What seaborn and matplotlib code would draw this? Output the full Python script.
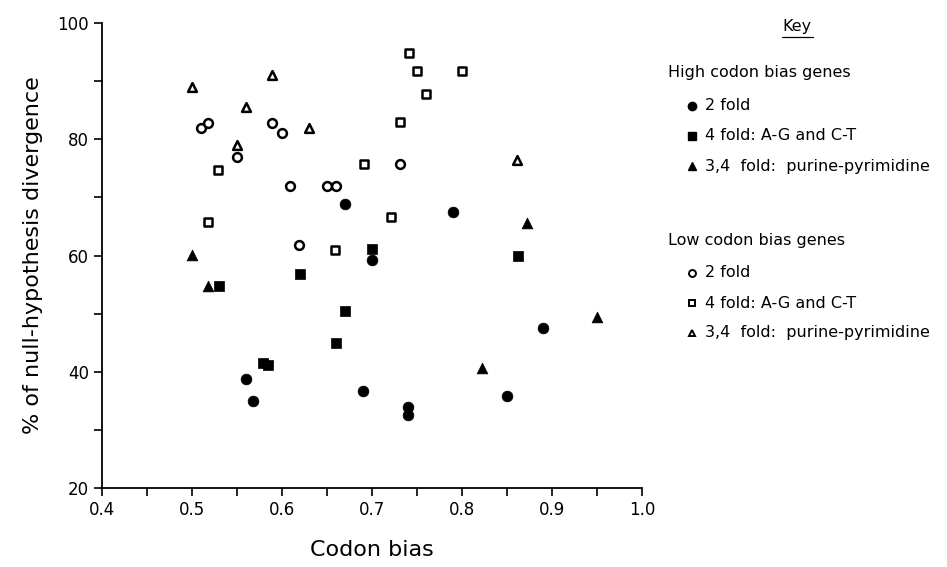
import numpy as np
import pandas as pd
import matplotlib.pyplot as plt
import seaborn as sns
from matplotlib.lines import Line2D
from matplotlib.ticker import MultipleLocator

sns.set_style("ticks")
plt.rcParams["font.family"] = ["DejaVu Sans"]
plt.rcParams["text.color"] = "black"
plt.rcParams["axes.labelcolor"] = "black"
plt.rcParams["xtick.color"] = "black"
plt.rcParams["ytick.color"] = "black"

# High codon bias genes (filled markers)
high_2fold_x = [0.67, 0.79, 0.70, 0.69, 0.74, 0.74, 0.56, 0.568, 0.89, 0.85]
high_2fold_y = [68.8, 67.5, 59.3, 36.8, 34.0, 32.6, 38.8, 35.0, 47.6, 35.8]
high_4fold_x = [0.70, 0.62, 0.67, 0.66, 0.579, 0.584, 0.53, 0.862]
high_4fold_y = [61.2, 56.8, 50.5, 44.9, 41.6, 41.1, 54.8, 60.0]
high_34fold_x = [0.50, 0.518, 0.95, 0.822, 0.872]
high_34fold_y = [60.1, 54.8, 49.5, 40.7, 65.6]

# Low codon bias genes (open markers)
low_2fold_x = [0.51, 0.518, 0.589, 0.60, 0.55, 0.609, 0.65, 0.66, 0.731, 0.619]
low_2fold_y = [82.0, 82.8, 82.8, 81.0, 76.9, 71.9, 71.9, 71.9, 75.8, 61.9]
low_4fold_x = [0.529, 0.518, 0.741, 0.75, 0.80, 0.76, 0.731, 0.691, 0.721, 0.659]
low_4fold_y = [74.8, 65.8, 94.8, 91.7, 91.7, 87.8, 82.9, 75.8, 66.7, 61.0]
low_34fold_x = [0.50, 0.56, 0.589, 0.55, 0.63, 0.861]
low_34fold_y = [89.0, 85.6, 91.0, 79.1, 81.9, 76.5]

groups = [
    ("High", "2 fold", "o", high_2fold_x, high_2fold_y),
    ("High", "4 fold: A-G and C-T", "s", high_4fold_x, high_4fold_y),
    ("High", "3,4  fold:  purine-pyrimidine", "^", high_34fold_x, high_34fold_y),
    ("Low", "2 fold", "o", low_2fold_x, low_2fold_y),
    ("Low", "4 fold: A-G and C-T", "s", low_4fold_x, low_4fold_y),
    ("Low", "3,4  fold:  purine-pyrimidine", "^", low_34fold_x, low_34fold_y),
]

fig = plt.figure(figsize=(9.47, 5.67), dpi=100)
ax = fig.add_axes([0.1077, 0.139, 0.5703, 0.8204])

for bias, label, marker, xs, ys in groups:
    df = pd.DataFrame({"x": xs, "y": ys})
    if bias == "High":
        sns.scatterplot(data=df, x="x", y="y", marker=marker, s=60,
                        color="black", edgecolor="black", linewidth=0.5, ax=ax)
    else:
        sns.scatterplot(data=df, x="x", y="y", marker=marker, s=40,
                        facecolor="white", edgecolor="black", linewidth=1.8, ax=ax)

ax.set_xlim(0.4, 1.0)
ax.set_ylim(20, 100)
ax.xaxis.set_major_locator(MultipleLocator(0.1))
ax.xaxis.set_minor_locator(MultipleLocator(0.05))
ax.yaxis.set_major_locator(MultipleLocator(20))
ax.yaxis.set_minor_locator(MultipleLocator(10))
ax.set_xticks(np.arange(0.4, 1.01, 0.1))
ax.set_xticklabels(["0.4", "0.5", "0.6", "0.7", "0.8", "0.9", "1.0"])
ax.tick_params(which="both", direction="out", length=6, width=1.2,
               labelsize=12, color="black", labelcolor="black")
sns.despine(ax=ax)
for sp in ["left", "bottom"]:
    ax.spines[sp].set_linewidth(1.3)
    ax.spines[sp].set_color("black")
ax.set_xlabel("Codon bias", fontsize=16, labelpad=15)
ax.set_ylabel("% of null-hypothesis divergence", fontsize=16, labelpad=10)

# Key (drawn by hand to match the original layout)
W, H = 947.0, 567.0
def fx(px):
    return px / W
def fy(py):
    return 1 - py / H

fig.text(fx(797), fy(27), "Key", fontsize=11.5, ha="center", va="center")
fig.add_artist(Line2D([fx(782), fx(813)], [fy(37), fy(37)], color="black",
                      lw=0.9, transform=fig.transFigure))

header_y = {"High": 73, "Low": 241}
entry_y = {"High": [106, 136, 166], "Low": [273, 303, 333]}
names = {"High": "High codon bias genes", "Low": "Low codon bias genes"}
counters = {"High": 0, "Low": 0}
for bias in ["High", "Low"]:
    fig.text(fx(668), fy(header_y[bias]), names[bias], fontsize=11.5,
             ha="left", va="center")
for bias, label, marker, xs, ys in groups:
    yy = entry_y[bias][counters[bias]]
    counters[bias] += 1
    if bias == "High":
        mk = Line2D([fx(692)], [fy(yy)], marker=marker, markersize=6,
                    color="black", linestyle="none", transform=fig.transFigure)
    else:
        mk = Line2D([fx(692)], [fy(yy)], marker=marker, markersize=5,
                    markerfacecolor="white", markeredgecolor="black",
                    markeredgewidth=1.4, linestyle="none",
                    transform=fig.transFigure)
    fig.add_artist(mk)
    fig.text(fx(705), fy(yy), label, fontsize=11.5, ha="left", va="center")

fig.savefig("out.png", dpi=100)
